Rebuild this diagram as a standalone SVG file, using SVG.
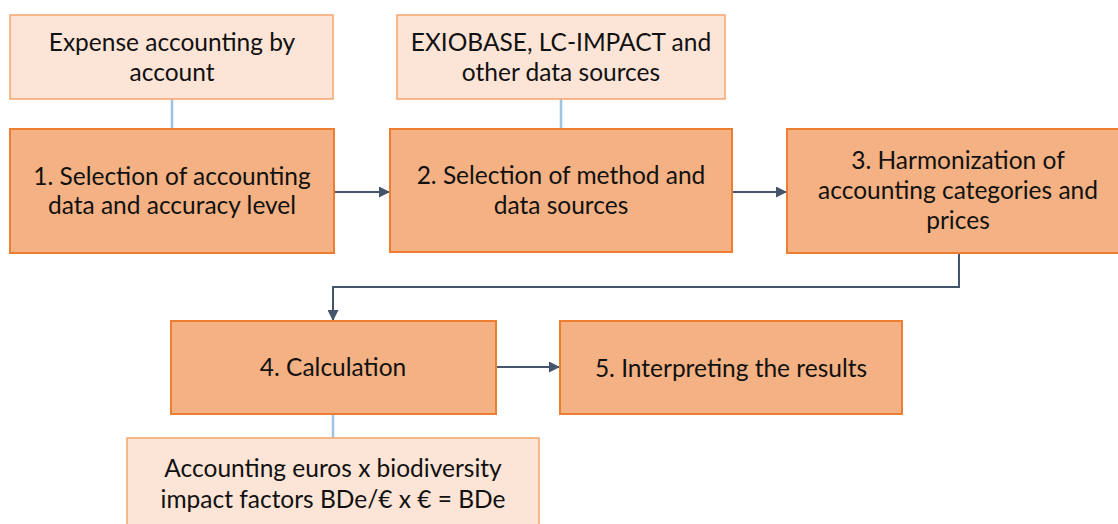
<svg xmlns="http://www.w3.org/2000/svg" width="1118" height="524" viewBox="0 0 1118 524">
<style>
.step{fill:#F4B183;stroke:#ED7D31;stroke-width:2}
.src{fill:#FCE4D6;stroke:#F4A46E;stroke-width:1.5}
text{font-family:Lato,"Liberation Sans",sans-serif;font-size:24.5px;fill:#111;text-anchor:middle}
.flow{fill:none;stroke:#44546A;stroke-width:2}
.link{fill:none;stroke:#9DC3E6;stroke-width:2.5}
</style>
<defs>
<marker id="ah" markerWidth="11" markerHeight="11" refX="10" refY="5.5" orient="auto" markerUnits="userSpaceOnUse">
<path d="M0,0 L11,5.5 L0,11 Z" fill="#44546A"/>
</marker>
</defs>
<g id="connectors">
<line class="link" x1="172" y1="99" x2="172" y2="129"/>
<line class="link" x1="561" y1="99" x2="561" y2="129"/>
<line class="link" x1="333" y1="414" x2="333" y2="438"/>
<line class="flow" x1="334" y1="192" x2="389" y2="192" marker-end="url(#ah)"/>
<line class="flow" x1="732" y1="192" x2="786" y2="192" marker-end="url(#ah)"/>
<path class="flow" d="M959,253 V287 H333 V320" marker-end="url(#ah)"/>
<line class="flow" x1="496" y1="367" x2="559" y2="367" marker-end="url(#ah)"/>
</g>
<g id="src1">
<rect class="src" x="10" y="15" width="323" height="84"/>
<text x="172" y="51">Expense accounting by</text>
<text x="172" y="81">account</text>
</g>
<g id="src2">
<rect class="src" x="397" y="15" width="328" height="84"/>
<text x="561" y="51">EXIOBASE, LC-IMPACT and</text>
<text x="561" y="81">other data sources</text>
</g>
<g id="step1">
<rect class="step" x="10" y="129" width="324" height="124"/>
<text x="172" y="185">1. Selection of accounting</text>
<text x="172" y="214">data and accuracy level</text>
</g>
<g id="step2">
<rect class="step" x="390" y="129" width="342" height="123"/>
<text x="561" y="184">2. Selection of method and</text>
<text x="561" y="214">data sources</text>
</g>
<g id="step3">
<rect class="step" x="787" y="129" width="340" height="124"/>
<text x="958" y="169">3. Harmonization of</text>
<text x="958" y="199">accounting categories and</text>
<text x="958" y="229">prices</text>
</g>
<g id="step4">
<rect class="step" x="171" y="321" width="325" height="93"/>
<text x="333" y="376">4. Calculation</text>
</g>
<g id="step5">
<rect class="step" x="560" y="321" width="342" height="93"/>
<text x="731" y="377">5. Interpreting the results</text>
</g>
<g id="formula">
<rect class="src" x="127" y="438" width="412" height="100"/>
<text x="333" y="477">Accounting euros x biodiversity</text>
<text x="333" y="508">impact factors BDe/€ x € = BDe</text>
</g>
</svg>
